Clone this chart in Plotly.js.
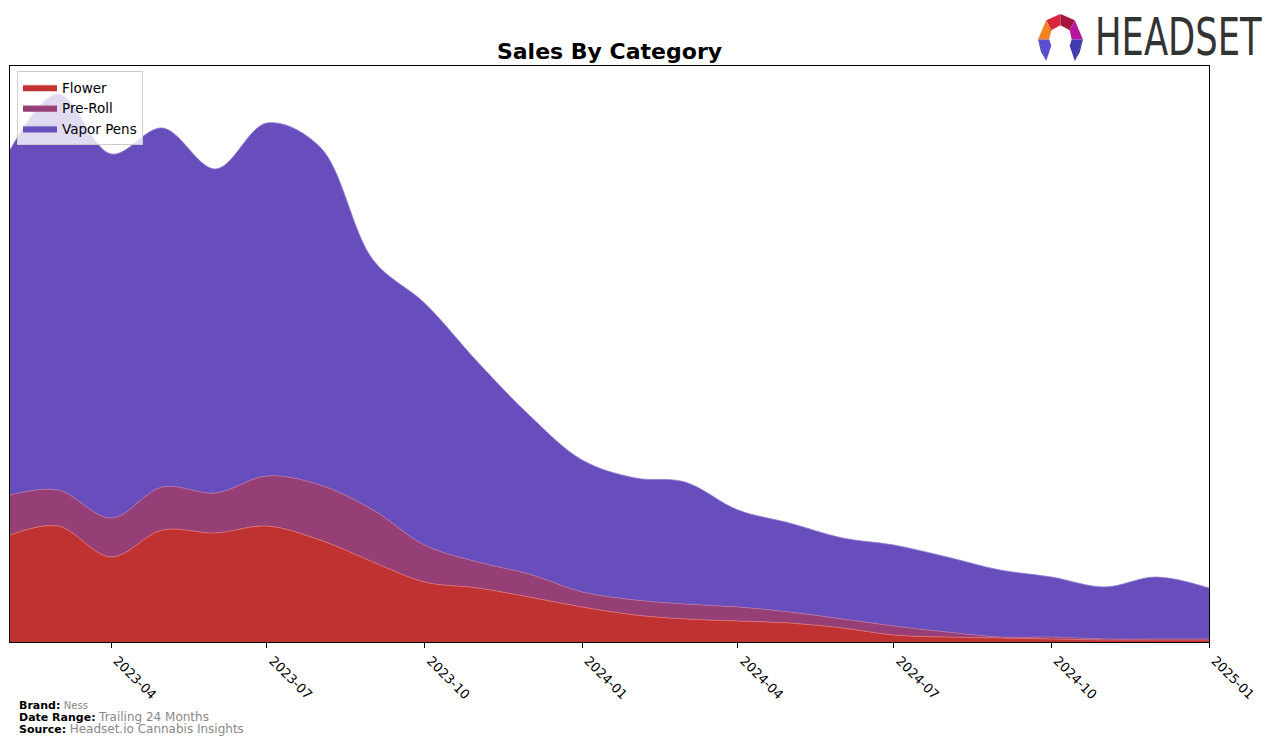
<!DOCTYPE html>
<html>
<head>
<meta charset="utf-8">
<script src="https://cdn.plot.ly/plotly-3.0.1.min.js"></script>
<style>html,body{margin:0;padding:0;background:#fff;}#chart{width:1276px;height:745px;}</style>
</head>
<body>
<div id="chart"></div>
<script>
const months = ["2023-02-01","2023-03-01","2023-04-01","2023-05-01","2023-06-01","2023-07-01","2023-08-01","2023-09-01","2023-10-01","2023-11-01","2023-12-01","2024-01-01","2024-02-01","2024-03-01","2024-04-01","2024-05-01","2024-06-01","2024-07-01","2024-08-01","2024-09-01","2024-10-01","2024-11-01","2024-12-01","2025-01-01"];
const flower = [107,116,85,112,109,116,102,80,60,54,45,35,27,23,21,19,14,7,5,4,3,2,2,2];
const preRoll = [40,36,39,43,40,50,55,52,37,26,23,15,15,15,14,11,9,9,5,1,2,1,1,1];
const vaporPens = [345,396,364,359,324,353,338,250,242,200,159,132,122,122,97,89,81,81,75,67,60,52,62,51];
const tickVals = ["2023-04-01","2023-07-01","2023-10-01","2024-01-01","2024-04-01","2024-07-01","2024-10-01","2025-01-01"];
const tickText = ["2023-04","2023-07","2023-10","2024-01","2024-04","2024-07","2024-10","2025-01"];

const PL = 10, PR = 1209, PT = 66, PB = 642;
const W = PR - PL, H = PB - PT;
const px = x => (x - PL) / W;
const py = y => (PB - y) / H;

function mk(name, y, fill, edge) {
  return {
    type: 'scatter', mode: 'lines', name: name, x: months, y: y,
    stackgroup: 'one', fillcolor: fill,
    line: {shape: 'spline', smoothing: 1, width: 0.8, color: edge},
    hoverinfo: 'skip'
  };
}
const traces = [
  mk('Flower', flower, '#C03232', '#DE7070'),
  mk('Pre-Roll', preRoll, '#963F77', '#B8709A'),
  mk('Vapor Pens', vaporPens, '#684EBD', '#8C78D0')
];

const logoSvg = '<svg xmlns="http://www.w3.org/2000/svg" viewBox="0 0 46 46">' +
  '<polygon points="9,6 23,0 23,11 14,16" fill="#D8263C"/>' +
  '<polygon points="23,0 37,6 32,16 23,11" fill="#A3163E"/>' +
  '<polygon points="37,6 45,25 34,25 32,16" fill="#B5179E"/>' +
  '<polygon points="9,6 14,16 12,25 1,25" fill="#F58220"/>' +
  '<polygon points="1,25 12,25 14,31 9,46" fill="#5A4FD0"/>' +
  '<polygon points="1,25 9,46 4,37" fill="#3A3596"/>' +
  '<polygon points="34,25 45,25 37,46 32,31" fill="#3E3BB0"/>' +
  '<polygon points="45,25 42,37 37,46" fill="#2C2A80"/>' +
  '</svg>';

const layout = {
  width: 1276, height: 745,
  margin: {l: PL, r: 1276 - PR, t: PT, b: 745 - PB, pad: 0},
  paper_bgcolor: '#fff', plot_bgcolor: '#fff',
  font: {family: 'DejaVu Sans', size: 13, color: '#000'},
  title: {text: '<b>Sales By Category</b>', font: {family: 'DejaVu Sans', size: 22, color: '#000'},
          x: px(609.5), xref: 'paper', xanchor: 'center', y: 1 - 51/745, yref: 'container', yanchor: 'middle'},
  showlegend: true,
  legend: {x: px(17), y: py(71), xanchor: 'left', yanchor: 'top', traceorder: 'normal', itemwidth: 34,
           bgcolor: 'rgba(255,255,255,0.8)', bordercolor: '#CCCCCC', borderwidth: 1,
           font: {family: 'DejaVu Sans', size: 13.5, color: '#000'}, tracegroupgap: 0},
  xaxis: {type: 'date', range: ['2023-02-01', '2025-01-01'], tickmode: 'array', tickvals: tickVals, ticktext: tickText,
          tickangle: 45, ticks: 'outside', ticklen: 5, tickcolor: '#000', showgrid: false, zeroline: false,
          showline: true, linecolor: '#000', linewidth: 1, mirror: true, ticklabelshift: 6,
          tickfont: {family: 'DejaVu Sans', size: 13, color: '#000'}},
  yaxis: {range: [0, H], showticklabels: false, ticks: '', showgrid: false, zeroline: false,
          showline: true, linecolor: '#000', linewidth: 1, mirror: true},
  images: [{source: 'data:image/svg+xml;charset=utf-8,' + encodeURIComponent(logoSvg),
            xref: 'paper', yref: 'paper', x: px(1037), y: py(14), sizex: 47 / W, sizey: 47 / H,
            sizing: 'stretch', xanchor: 'left', yanchor: 'top', layer: 'above'}],
  annotations: [
    {text: 'HEADSET', xref: 'paper', yref: 'paper', x: px(1093), y: py(38), xanchor: 'left', yanchor: 'middle',
     showarrow: false, font: {family: 'DejaVu Sans', size: 50, color: '#333333'}},
    {text: '<b>Brand:</b> <span style="color:#888;font-size:10px">Ness</span>', xref: 'paper', yref: 'paper',
     x: px(17), y: py(705), xanchor: 'left', yanchor: 'middle', showarrow: false, font: {family: 'DejaVu Sans', size: 11, color: '#000'}},
    {text: '<b>Date Range:</b> <span style="color:#888;font-size:12px">Trailing 24 Months</span>', xref: 'paper', yref: 'paper',
     x: px(17), y: py(717), xanchor: 'left', yanchor: 'middle', showarrow: false, font: {family: 'DejaVu Sans', size: 11, color: '#000'}},
    {text: '<b>Source:</b> <span style="color:#888;font-size:12px">Headset.io Cannabis Insights</span>', xref: 'paper', yref: 'paper',
     x: px(17), y: py(729), xanchor: 'left', yanchor: 'middle', showarrow: false, font: {family: 'DejaVu Sans', size: 11, color: '#000'}}
  ]
};

Plotly.newPlot('chart', traces, layout, {displayModeBar: false, staticPlot: true}).then(function (gd) {
  // condense the HEADSET wordmark to the logo's width
  const texts = gd.querySelectorAll('.annotation-text-g text');
  texts.forEach(function (t) {
    if (t.textContent.trim() === 'HEADSET') {
      const bb = t.getBBox();
      const targetW = 167, targetH = 37;
      const sx = targetW / bb.width;
      const capH = 50 * 0.729;
      const sy = targetH / capH;
      const cx = bb.x, cy = bb.y + bb.height / 2;
      t.setAttribute('transform', 'translate(' + cx + ',' + cy + ') scale(' + sx + ',' + sy + ') translate(' + (-cx) + ',' + (-cy) + ')');
    }
  });
});
</script>
</body>
</html>
